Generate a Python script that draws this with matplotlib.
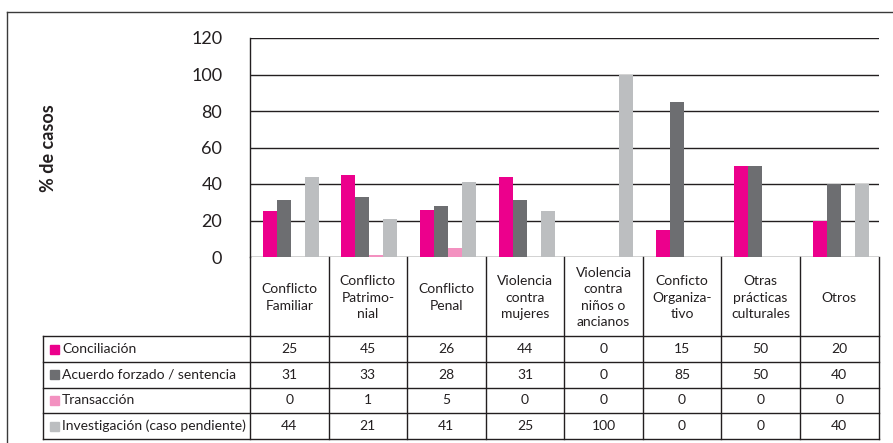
import matplotlib.pyplot as plt
import numpy as np
from matplotlib.lines import Line2D
from matplotlib.patches import Rectangle

categories = ["Conflicto\nFamiliar", "Conflicto\nPatrimo-\nnial", "Conflicto\nPenal",
              "Violencia\ncontra\nmujeres", "Violencia\ncontra\nniños o\nancianos",
              "Conficto\nOrganiza-\ntivo", "Otras\nprácticas\nculturales", "Otros"]
series = ["Conciliación", "Acuerdo forzado / sentencia", "Transacción",
          "Investigación (caso pendiente)"]
conciliacion = [25, 45, 26, 44, 0, 15, 50, 20]
acuerdo = [31, 33, 28, 31, 0, 85, 50, 40]
transaccion = [0, 1, 5, 0, 0, 0, 0, 0]
investigacion = [44, 21, 41, 25, 100, 0, 0, 40]
values = [conciliacion, acuerdo, transaccion, investigacion]
colors = ["#EC008C", "#6D6E71", "#F391C0", "#BCBEC0"]

plt.rcParams['font.family'] = ['Lato', 'DejaVu Sans']

W, H = 893, 443
fig = plt.figure(figsize=(W / 100, H / 100), dpi=100)


def fx(x):
    return x / W


def fy(y):
    return 1 - y / H


def hline(x0, x1, y, color="#231F20", lw=1.0):
    fig.add_artist(Line2D([fx(x0), fx(x1)], [fy(y), fy(y)], color=color, lw=lw))


def vline(x, y0, y1, color="#231F20", lw=1.0):
    fig.add_artist(Line2D([fx(x), fx(x)], [fy(y0), fy(y1)], color=color, lw=lw))


# outer frame
hline(7, 893, 12, color="#3a3a3a")
vline(7, 12, 443, color="#3a3a3a")

# bar chart area
left, right, top, bottom = 250, 878.5, 38, 257
ax = fig.add_axes([fx(left), fy(bottom), (right - left) / W, (bottom - top) / H])
n = len(categories)
x = np.arange(n) + 0.5
bw = 14 / ((right - left) / n)
for i, (vals, c) in enumerate(zip(values, colors)):
    ax.bar(x + (i - 1.5) * bw + 0.02, vals, width=bw, color=c, zorder=3)

ax.set_xlim(0, n)
ax.set_ylim(0, 120)
ax.set_yticks(range(0, 121, 20))
ax.yaxis.grid(True, color="#231F20", lw=1.0, zorder=0)
ax.set_xticks([])
ax.tick_params(axis='y', length=0, pad=20, labelsize=13, labelcolor="#231F20")
for s in ["top", "right", "bottom"]:
    ax.spines[s].set_visible(False)
ax.spines["left"].set_color("#231F20")
ax.spines["left"].set_linewidth(1.0)
ax.patch.set_alpha(0)

fig.text(fx(48), fy(148), "% de casos", rotation=90, ha="center", va="center",
         fontsize=13, fontweight="bold", color="#231F20")

# data table
col_w = (right - left) / n
col_edges = [left + k * col_w for k in range(n + 1)]
row_edges = [336, 362, 387.5, 413, 439]
tab_left = 43

for xe in col_edges:
    vline(xe, bottom, row_edges[-1])
vline(tab_left, row_edges[0], row_edges[-1])
for ye in row_edges:
    hline(tab_left, right, ye)

for j, lab in enumerate(categories):
    fig.text(fx(left + (j + 0.5) * col_w), fy((bottom + row_edges[0]) / 2 + 1), lab,
             ha="center", va="center", fontsize=10, linespacing=1.45, color="#231F20")

for i, (name, vals, c) in enumerate(zip(series, values, colors)):
    yc = (row_edges[i] + row_edges[i + 1]) / 2
    fig.add_artist(Rectangle((fx(50), fy(yc + 4.5)), 9 / W, 9 / H, color=c,
                             transform=fig.transFigure))
    fig.text(fx(62), fy(yc), name, ha="left", va="center", fontsize=10, color="#231F20")
    for j, v in enumerate(vals):
        fig.text(fx(left + (j + 0.5) * col_w), fy(yc), str(v), ha="center", va="center",
                 fontsize=10, color="#231F20")

fig.savefig("out.png", dpi=100)
